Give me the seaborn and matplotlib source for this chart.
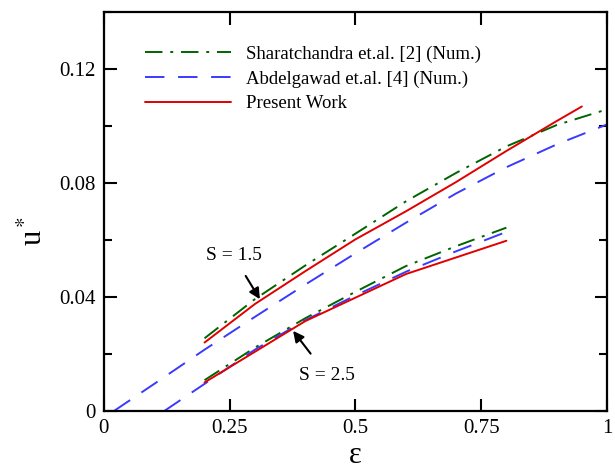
import numpy as np
import pandas as pd
import matplotlib
matplotlib.use("Agg")
import matplotlib.pyplot as plt
from matplotlib.ticker import MultipleLocator
import seaborn as sns

# Sharatchandra et.al. [2] (Num.)
shar_eps = [0.2, 0.3, 0.4, 0.5, 0.6, 0.7, 0.8, 0.9, 1.0]
shar_s15 = [0.0255, 0.0392, 0.0510, 0.0622, 0.0735, 0.0835, 0.0928, 0.1003, 0.1058]
shar_eps_s25 = [0.2, 0.3, 0.4, 0.5, 0.6, 0.7, 0.8]
shar_s25 = [0.0108, 0.0222, 0.0325, 0.0418, 0.0508, 0.0578, 0.0643]

# Abdelgawad et.al. [4] (Num.)
abd_eps_s15 = [0.02, 0.1, 0.2, 0.3, 0.4, 0.5, 0.6, 0.7, 0.8, 0.9, 1.0]
abd_s15 = [0.0, 0.0095, 0.0215, 0.0330, 0.0443, 0.0553, 0.0660, 0.0763, 0.0855, 0.0935, 0.1005]
abd_eps_s25 = [0.12, 0.2, 0.3, 0.4, 0.5, 0.6, 0.7, 0.8]
abd_s25 = [0.0, 0.0095, 0.0215, 0.0318, 0.0405, 0.0488, 0.0560, 0.0628]

# Present Work
pres_eps_s15 = [0.2, 0.3, 0.4, 0.5, 0.6, 0.7, 0.8, 0.9, 0.95]
pres_s15 = [0.0240, 0.0375, 0.0490, 0.0602, 0.0700, 0.0803, 0.0912, 0.1017, 0.1068]
pres_eps_s25 = [0.2, 0.4, 0.6, 0.8]
pres_s25 = [0.0100, 0.0315, 0.0480, 0.0597]

sns.set_style("ticks")
plt.rcParams["font.family"] = ["Liberation Serif", "DejaVu Serif"]
plt.rcParams["mathtext.fontset"] = "stix"
for key in ["axes.edgecolor", "text.color", "axes.labelcolor",
            "xtick.color", "ytick.color"]:
    plt.rcParams[key] = "black"

fig = plt.figure(figsize=(6.15, 4.74), dpi=100)
ax = fig.add_axes([0.169, 0.133, 0.818, 0.842])

green = "#006400"
blue = "#3a3aff"
red = "#e00000"
dashdot = (0, (9, 4, 1.5, 4))
dashed = (0, (10, 7))

curves = [
    (shar_eps, shar_s15, green, dashdot, "Sharatchandra et.al. [2] (Num.)"),
    (shar_eps_s25, shar_s25, green, dashdot, None),
    (abd_eps_s15, abd_s15, blue, dashed, "Abdelgawad et.al. [4] (Num.)"),
    (abd_eps_s25, abd_s25, blue, dashed, None),
    (pres_eps_s15, pres_s15, red, "-", "Present Work"),
    (pres_eps_s25, pres_s25, red, "-", None),
]
for xs, ys, col, ls, lab in curves:
    sns.lineplot(x=xs, y=ys, color=col, linestyle=ls, linewidth=1.4,
                 label=lab, ax=ax, sort=False)

ax.set_xlim(0, 1)
ax.set_ylim(0, 0.14)
ax.set_xticks([0, 0.25, 0.5, 0.75, 1])
ax.set_xticklabels(["0", "0.25", "0.5", "0.75", "1"])
ax.set_yticks([0, 0.04, 0.08, 0.12])
ax.set_yticklabels(["0", "0.04", "0.08", "0.12"])
ax.yaxis.set_minor_locator(MultipleLocator(0.02))
ax.tick_params(which="both", direction="in", top=True, right=True,
               labelsize=15, width=1.5, pad=6)
ax.tick_params(which="major", length=9)
ax.tick_params(which="minor", length=6)
for sp in ax.spines.values():
    sp.set_linewidth(1.6)

ax.set_xlabel("ε", fontsize=22, labelpad=2)
ax.set_ylabel("u$^*$", fontsize=22)
ax.yaxis.set_label_coords(-0.11, 0.45)

ax.annotate("S = 1.5", xy=(0.31, 0.0392), xytext=(0.2575, 0.0544),
            fontsize=14, ha="center", va="center",
            arrowprops=dict(arrowstyle="-|>", color="black", lw=1.5,
                            shrinkA=7, shrinkB=0, mutation_scale=16))
ax.annotate("S = 2.5", xy=(0.376, 0.0281), xytext=(0.444, 0.0125),
            fontsize=14, ha="center", va="center",
            arrowprops=dict(arrowstyle="-|>", color="black", lw=1.5,
                            shrinkA=9, shrinkB=0, mutation_scale=16))

ax.legend(loc="upper left", bbox_to_anchor=(0.048, 0.958), frameon=False,
          fontsize=13.5, handlelength=4.6, handletextpad=0.8,
          labelspacing=0.4, borderaxespad=0.5)

fig.savefig("out.png", dpi=100)
